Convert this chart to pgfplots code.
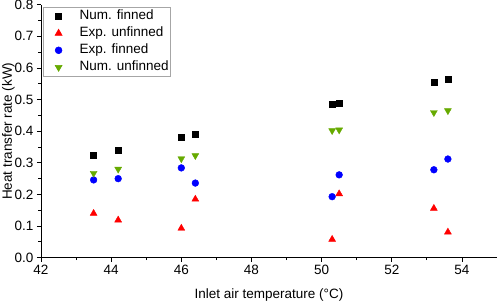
\documentclass[border=0pt]{standalone}
\usepackage{fontspec}
\setmainfont{Liberation Sans}
\usepackage{pgfplots}
\pgfplotsset{compat=1.18}
\definecolor{myred}{RGB}{255,0,0}
\definecolor{myblue}{RGB}{0,0,255}
\definecolor{mygreen}{RGB}{102,170,0}
\newcommand{\fs}{\fontsize{13.5bp}{16bp}\selectfont}
\pgfplotsset{myleg/.style={legend image code/.code={\path (0bp,0bp) (33.7bp,0bp); \draw[##1] plot coordinates {(15bp,0bp)};}}}
\begin{document}
\begin{tikzpicture}
\begin{axis}[
  scale only axis, width=456bp, height=253bp,
  xmin=42, xmax=55, ymin=0, ymax=0.8,
  axis x line*=bottom, axis y line*=left,
  axis line style={line width=0.8bp, -},
  xtick={42,44,...,54}, ytick={0,0.1,...,0.8},
  minor x tick num=1, minor y tick num=1,
  tick align=outside,
  major tick length=4bp, minor tick length=2.5bp,
  tick style={line width=0.8bp, black},
  /pgf/number format/assume math mode=true,
  yticklabel style={/pgf/number format/fixed, /pgf/number format/precision=1, /pgf/number format/fixed zerofill},
  ticklabel style={font=\fs},
  xlabel={Inlet air temperature (°C)},
  ylabel={Heat transfer rate (kW)},
  xlabel style={font=\fs, at={(axis description cs:0.5,0)}, anchor=base, yshift=-40.3bp},
  ylabel style={font=\fs, at={([xshift=-29bp]axis description cs:0,0.5)}, anchor=base},
  legend cell align=left,
  legend style={font=\fs, at={(axis description cs:0,1)}, anchor=north west, xshift=2bp, yshift=-2.3bp,
    draw=black!35, line width=0.6bp, inner xsep=0bp, inner ysep=0.5bp, row sep=0bp,
    nodes={inner sep=2bp, text height=10bp, text depth=3bp}},
]
\addplot[only marks, mark=square*, mark size=3bp, black, myleg] coordinates {
(43.5,0.323) (44.2,0.340) (46.0,0.382) (46.4,0.392) (50.3,0.486) (50.5,0.490) (53.2,0.555) (53.6,0.565)};
\addlegendentry{Num. finned}
\addplot[only marks, mark=triangle*, mark size=4bp, myred, myleg] coordinates {
(43.5,0.140) (44.2,0.119) (46.0,0.093) (46.4,0.185) (50.3,0.058) (50.5,0.202) (53.2,0.156) (53.6,0.081)};
\addlegendentry{Exp. unfinned}
\addplot[only marks, mark=*, mark size=3.4bp, myblue, myleg] coordinates {
(43.5,0.246) (44.2,0.250) (46.0,0.284) (46.4,0.236) (50.3,0.193) (50.5,0.262) (53.2,0.278) (53.6,0.312)};
\addlegendentry{Exp. finned}
\addplot[only marks, mark=triangle*, mark size=4bp, mark options={rotate=180}, mygreen, myleg] coordinates {
(43.5,0.267) (44.2,0.280) (46.0,0.313) (46.4,0.323) (50.3,0.402) (50.5,0.404) (53.2,0.459) (53.6,0.465)};
\addlegendentry{Num. unfinned}
\end{axis}
\pgfresetboundingbox
\path (-41bp,-44.3bp) rectangle (457bp,257.7bp);
\end{tikzpicture}
\end{document}
